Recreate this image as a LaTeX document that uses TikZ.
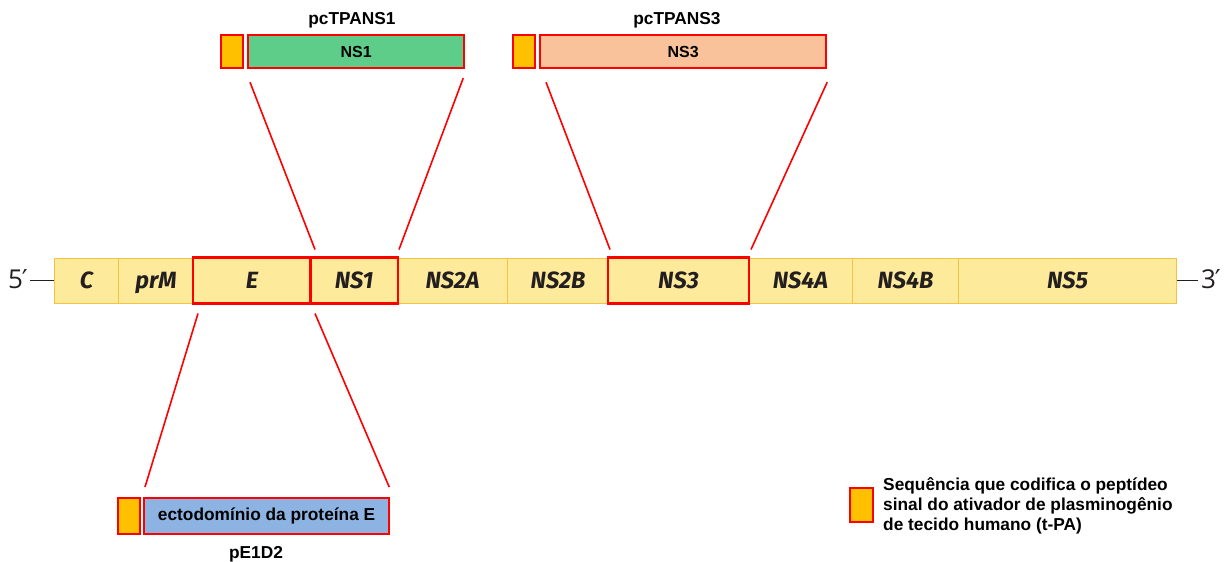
\documentclass[tikz,border=0pt]{standalone}
\usepackage{fontspec}
\setmainfont{Liberation Sans}
\newfontfamily\genfont{Fira Sans}
\newfontfamily\endfont{Open Sans}
\newfontfamily\primefont{DejaVu Sans}
\definecolor{segfill}{HTML}{FDEA9B}
\definecolor{segborder}{HTML}{F6C243}
\definecolor{gtext}{HTML}{231F20}
\definecolor{nsgreen}{HTML}{5FCD8A}
\definecolor{nssalmon}{HTML}{F9C29A}
\definecolor{nsblue}{HTML}{8DB3E2}
\definecolor{amber}{HTML}{FFC000}
\definecolor{hred}{HTML}{FF0000}
\begin{document}
\begin{tikzpicture}[x=1pt,y=-1pt,
  seg/.style={draw=segborder, fill=segfill, line width=1pt, minimum height=45, inner sep=0,
    text height=16, text depth=0, anchor=west, text=gtext,
    font=\genfont\bfseries\itshape\fontsize{23.5}{23.5}\selectfont},
  hl/.style={draw=hred, line width=2.4pt},
  cbox/.style={draw=hred, line width=2.2pt, inner sep=0, anchor=north west,
    font=\bfseries\fontsize{16}{16}\selectfont},
  sig/.style={cbox, fill=amber, minimum width=22},
  conn/.style={draw=hred, line width=1.6pt},
  title/.style={font=\bfseries\fontsize{17.3}{17.3}\selectfont},
  endl/.style={font=\endfont\fontsize{26}{26}\selectfont, text=gtext}
]
\useasboundingbox (0,0) rectangle (1226,562);
% genome
\node[seg, minimum width=64] (C) at (54,280.5) {C};
\node[seg, minimum width=75] (prM) at (118,280.5) {prM};
\node[seg, minimum width=117] (E) at (193,280.5) {E};
\node[seg, minimum width=87] (NS1) at (310,280.5) {NS1};
\node[seg, minimum width=110] (NS2A) at (397,280.5) {NS2A};
\node[seg, minimum width=101] (NS2B) at (507,280.5) {NS2B};
\node[seg, minimum width=140] (NS3) at (608,280.5) {NS3};
\node[seg, minimum width=104] (NS4A) at (748,280.5) {NS4A};
\node[seg, minimum width=106] (NS4B) at (852,280.5) {NS4B};
\node[seg, minimum width=218] (NS5) at (958,280.5) {NS5};
\draw[hl] (E.north west) rectangle (E.south east);
\draw[hl] (NS1.north west) rectangle (NS1.south east);
\draw[hl] (NS3.north west) rectangle (NS3.south east);
% ends
\node[endl] (five) at (18,279) {5{\primefont\kern-1pt′}};
\node[endl] (three) at (1211,279) {3{\primefont\kern-1pt′}};
\draw[gtext, line width=0.8pt] (30,280.5) -- (C.west);
\draw[gtext, line width=0.8pt] (NS5.east) -- (1198,280.5);
% top constructs
\node[title] (t1) at (352,20) {pcTPANS1};
\node[sig, minimum height=33] (s1) at (220,34) {};
\node[cbox, fill=nsgreen, minimum width=216, minimum height=33] (g1) at (247,34) {NS1};
\node[title] (t3) at (677,20) {pcTPANS3};
\node[sig, minimum height=33] (s3) at (512,34) {};
\node[cbox, fill=nssalmon, minimum width=286, minimum height=33] (g3) at (539,34) {NS3};
% bottom construct
\node[sig, minimum height=36] (sE) at (117,497) {};
\node[cbox, fill=nsblue, minimum width=245, minimum height=36, font=\bfseries\fontsize{17.3}{17.3}\selectfont] (gE) at (143,497) {ectodomínio da proteína E};
\node[title] (tE) at (256,554) {pE1D2};
% connectors
\draw[conn] ([shift={(3,13)}]g1.south west) -- ([shift={(5,-8)}]NS1.north west);
\draw[conn] ([shift={(-2,9)}]g1.south east) -- ([shift={(1,-8)}]NS1.north east);
\draw[conn] ([shift={(7,13)}]g3.south west) -- ([shift={(2,-8)}]NS3.north west);
\draw[conn] ([shift={(0,13)}]g3.south east) -- ([shift={(2,-8)}]NS3.north east);
\draw[conn] ([shift={(5,10)}]E.south west) -- ([shift={(2,-10)}]gE.north west);
\draw[conn] ([shift={(5,10)}]NS1.south west) -- ([shift={(-1,-10)}]gE.north east);
% legend
\node[sig, minimum height=34, minimum width=23] (leg) at (849,487) {};
\node[anchor=north west, align=left, inner sep=0, font=\bfseries\fontsize{17.3}{20}\selectfont] (legt) at (883,477)
  {Sequência que codifica o peptídeo\\sinal do ativador de plasminogênio\\de tecido humano (t-PA)};
\end{tikzpicture}
\end{document}
